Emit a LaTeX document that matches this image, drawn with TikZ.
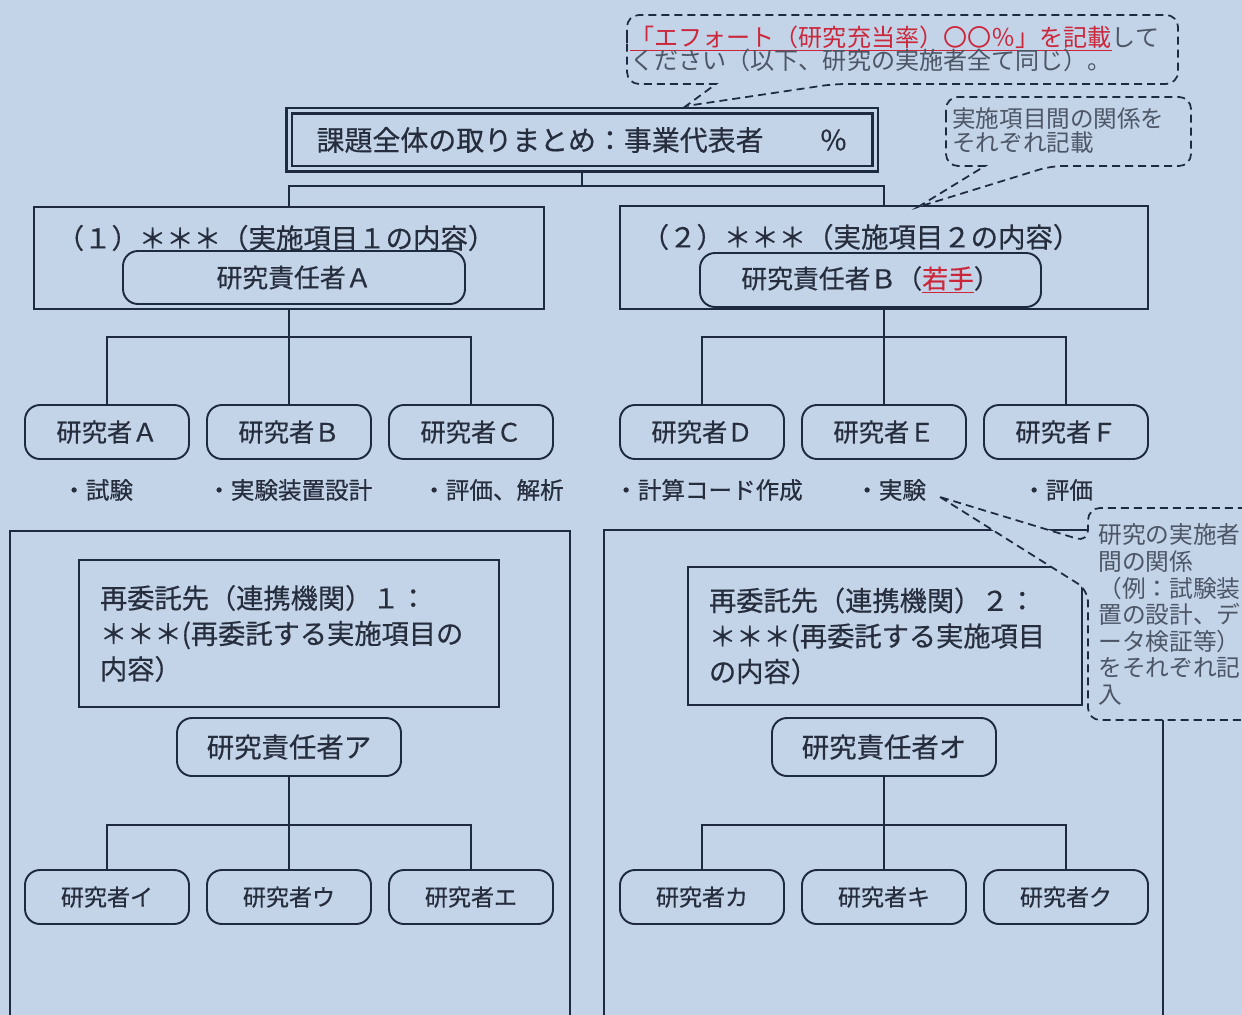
\documentclass[tikz,border=0pt]{standalone}
\usepackage{fontspec}
\setmainfont{Noto Sans CJK JP}[FakeBold=0.5]
\newfontfamily\memofont{Noto Sans CJK JP}
\definecolor{bgblue}{RGB}{195,211,232}
\definecolor{linenavy}{RGB}{30,42,64}
\definecolor{inkdark}{RGB}{38,46,62}
\definecolor{notered}{RGB}{204,38,58}
\definecolor{notegray}{RGB}{76,86,102}
\newcommand{\redmark}[1]{\textcolor{notered}{\underline{#1}}}
\setlength{\lineskiplimit}{-20pt}

\begin{document}
\begin{tikzpicture}[x=0.2mm, y=-0.2mm,
  every node/.style={text=inkdark},
  frame/.style={draw=linenavy, line width=1.1pt, fill=bgblue, inner sep=0pt},
  pill/.style={frame, rounded corners=3mm},
  member/.style={pill, minimum width=32.8mm, minimum height=10.8mm, font=\fontsize{14.4pt}{16pt}\selectfont},
  submember/.style={member, font=\fontsize{13.1pt}{15pt}\selectfont},
  chief/.style={pill, font=\fontsize{14.7pt}{17pt}\selectfont},
  subchief/.style={pill, minimum width=44.8mm, minimum height=11.6mm, font=\fontsize{15.6pt}{18pt}\selectfont},
  heading/.style={inner sep=0pt, font=\fontsize{15.6pt}{17pt}\selectfont},
  partner/.style={frame, align=left, inner xsep=4.2mm, font=\fontsize{15.5pt}{20.2pt}\selectfont},
  task/.style={anchor=west, inner sep=0pt, font=\fontsize{13.4pt}{15pt}\selectfont},
  wire/.style={draw=linenavy, line width=1.1pt},
  memo/.style={draw=linenavy, line width=1pt, dash pattern=on 1.6mm off 1mm, fill=bgblue, rounded corners=2.4mm},
  memotext/.style={anchor=west, inner sep=0pt, align=left, text=notegray}
]
\useasboundingbox (0,0) rectangle (1242,1015);
\clip (0,0) rectangle (1242,1015);
\fill[bgblue] (0,0) rectangle (1242,1015);

\node[frame, line width=0.55mm, double=bgblue, double distance=0.6mm, minimum width=117.2mm, minimum height=11.6mm, font=\fontsize{15.9pt}{18pt}\selectfont] (lead) at (582,140) {課題全体の取りまとめ：事業代表者　　％};

\node[frame, minimum width=102mm, minimum height=20.4mm] (item1) at (289,258) {};
\node[frame, minimum width=105.6mm, minimum height=20.6mm] (item2) at (884,257.5) {};
\node[heading] (head1) at (276,238) {（１）＊＊＊（実施項目１の内容）};
\node[heading] (head2) at (861,237) {（２）＊＊＊（実施項目２の内容）};
\node[chief, minimum width=68.4mm, minimum height=10.6mm] (chiefA) at (294,277.5) {研究責任者Ａ};
\node[chief, minimum width=68.2mm, minimum height=10.8mm] (chiefB) at (870.5,280) {研究責任者Ｂ（\redmark{若手}）};

\node[member] (resA) at (107,432) {研究者Ａ};
\node[member] (resB) at (289,432) {研究者Ｂ};
\node[member] (resC) at (471,432) {研究者Ｃ};
\node[member] (resD) at (702,432) {研究者Ｄ};
\node[member] (resE) at (884,432) {研究者Ｅ};
\node[member] (resF) at (1066,432) {研究者Ｆ};

\node[task] (taskA) at (62,490) {・試験};
\node[task] (taskB) at (207,490) {・実験装置設計};
\node[task] (taskC) at (422,490) {・評価、解析};
\node[task] (taskD) at (614,490) {・計算コード作成};
\node[task] (taskE) at (855,490) {・実験};
\node[task] (taskF) at (1022,490) {・評価};

\node[frame, minimum width=112mm, minimum height=106mm] (sub1) at (290,796) {};
\node[frame, minimum width=111.8mm, minimum height=106mm] (sub2) at (883.5,795) {};
\node[partner, minimum width=84mm, minimum height=29.4mm, text width=75.6mm] (part1) at (289,633.5) {再委託先（連携機関）１：\\＊＊＊(再委託する実施項目の\\内容）};
\node[partner, minimum width=78.8mm, minimum height=27.6mm, text width=70.4mm] (part2) at (885,636) {再委託先（連携機関）２：\\＊＊＊(再委託する実施項目\\の内容）};
\node[subchief] (chiefSub1) at (289,747) {研究責任者ア};
\node[subchief] (chiefSub2) at (884,747) {研究責任者オ};

\node[submember] (resI) at (107,897) {研究者イ};
\node[submember] (resU) at (289,897) {研究者ウ};
\node[submember] (resEe) at (471,897) {研究者エ};
\node[submember] (resKa) at (702,897) {研究者カ};
\node[submember] (resKi) at (884,897) {研究者キ};
\node[submember] (resKu) at (1066,897) {研究者ク};

\coordinate (split) at (582,186);
\draw[wire] (lead.south) -- (split);
\draw[wire] (item1.north) |- (split) -| (item2.north);
\coordinate (fork1) at (289,337);
\coordinate (fork2) at (884,337);
\coordinate (fork3) at (289,825);
\coordinate (fork4) at (884,825);
\foreach \parentbox/\hub/\boxl/\boxm/\boxr in {item1/fork1/resA/resB/resC, item2/fork2/resD/resE/resF, chiefSub1/fork3/resI/resU/resEe, chiefSub2/fork4/resKa/resKi/resKu}{
  \draw[wire] (\parentbox.south) -- (\hub) -- (\boxm.north);
  \draw[wire] (\boxl.north) |- (\hub) -| (\boxr.north);
}

\path[memo] (627,50) |- (1178,15) |- (834,84) [sharp corners] -- (686,106) -- (716,84) [rounded corners=2.4mm] -| (627,50) -- cycle;
\path[memo] (946,130) |- (1191,97) |- (1051,166) [sharp corners] -- (918,207) -- (985,166) [rounded corners=2.4mm] -| (946,130) -- cycle;
\path[memo] (940,497) -- (1088,590) [rounded corners=2.4mm] |- (1262,720) |- (1088,508) -- (1088,542) [sharp corners] -- cycle;

\node[memotext, font=\memofont\fontsize{13.7pt}{13.2pt}\selectfont] (note1) at (630,48.5) {\redmark{「エフォート（研究充当率）〇〇％」を記載}して\\ください（以下、研究の実施者全て同じ）。};
\node[memotext, font=\memofont\fontsize{13.4pt}{13.7pt}\selectfont] (note2) at (952,131) {実施項目間の関係を\\それぞれ記載};
\node[memotext, font=\memofont\fontsize{13.5pt}{15.1pt}\selectfont] (note3) at (1098,614.5) {研究の実施者\\間の関係\\（例：試験装\\置の設計、デ\\ータ検証等）\\をそれぞれ記\\入};
\end{tikzpicture}
\end{document}
